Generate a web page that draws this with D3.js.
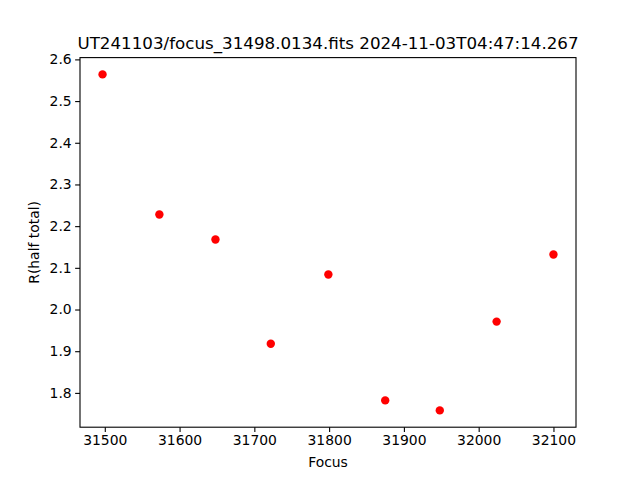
<!DOCTYPE html>
<html><head><meta charset="utf-8">
<script src="https://cdn.jsdelivr.net/npm/d3@7"></script>
<style>body{margin:0;background:#fff}svg{display:block;font-family:"DejaVu Sans",sans-serif}</style>
</head><body>
<svg id="c" width="640" height="480"></svg>
<script>
const focus = [31497, 31573, 31648, 31722, 31799, 31875, 31948, 32024, 32100];
const rHalf = [2.564, 2.228, 2.168, 1.918, 2.084, 1.782, 1.758, 1.971, 2.132];
const xTicks = [31500, 31600, 31700, 31800, 31900, 32000, 32100];
const yTicks = [1.8, 1.9, 2.0, 2.1, 2.2, 2.3, 2.4, 2.5, 2.6];
const title = "UT241103/focus_31498.0134.fits 2024-11-03T04:47:14.267";

const svg = d3.select("#c");
const L = 80, R = 576, T = 57.6, B = 427.2;
function pad(ext){const d = ext[1]-ext[0]; return [ext[0]-0.05*d, ext[1]+0.05*d];}
const x = d3.scaleLinear().domain(pad(d3.extent(focus))).range([L, R]);
const y = d3.scaleLinear().domain(pad(d3.extent(rHalf))).range([B, T]);

svg.append("rect").attr("x",0).attr("y",0).attr("width",640).attr("height",480).attr("fill","#fff");

const xa = svg.append("g").attr("transform",`translate(0,${B})`)
  .call(d3.axisBottom(x).tickValues(xTicks).tickFormat(d3.format("d")).tickSize(4.86).tickPadding(3.5));
const ya = svg.append("g").attr("transform",`translate(${L},0)`)
  .call(d3.axisLeft(y).tickValues(yTicks).tickFormat(d3.format(".1f")).tickSize(4.86).tickPadding(3.5));
[xa, ya].forEach(a => {
  a.select(".domain").remove();
  a.selectAll("line").attr("stroke","#000").attr("stroke-width",1.1);
  a.selectAll("text").attr("font-size","13.9px").attr("fill","#000").attr("font-family","DejaVu Sans");
});

svg.append("rect").attr("x",L).attr("y",T).attr("width",R-L).attr("height",B-T)
  .attr("fill","none").attr("stroke","#000").attr("stroke-width",1.1);

svg.append("g").selectAll("circle").data(focus).join("circle")
  .attr("cx",(d)=>x(d)).attr("cy",(d,i)=>y(rHalf[i])).attr("r",4.2).attr("fill","#ff0000");

svg.append("text").attr("x",(L+R)/2).attr("y",T-8.3).attr("text-anchor","middle")
  .attr("font-size","16.7px").attr("fill","#000").text(title);
svg.append("text").attr("x",(L+R)/2).attr("y",467).attr("text-anchor","middle")
  .attr("font-size","13.9px").attr("fill","#000").text("Focus");
svg.append("text").attr("transform",`translate(39,${(T+B)/2}) rotate(-90)`).attr("text-anchor","middle")
  .attr("font-size","13.9px").attr("fill","#000").text("R(half total)");
</script>
</body></html>
